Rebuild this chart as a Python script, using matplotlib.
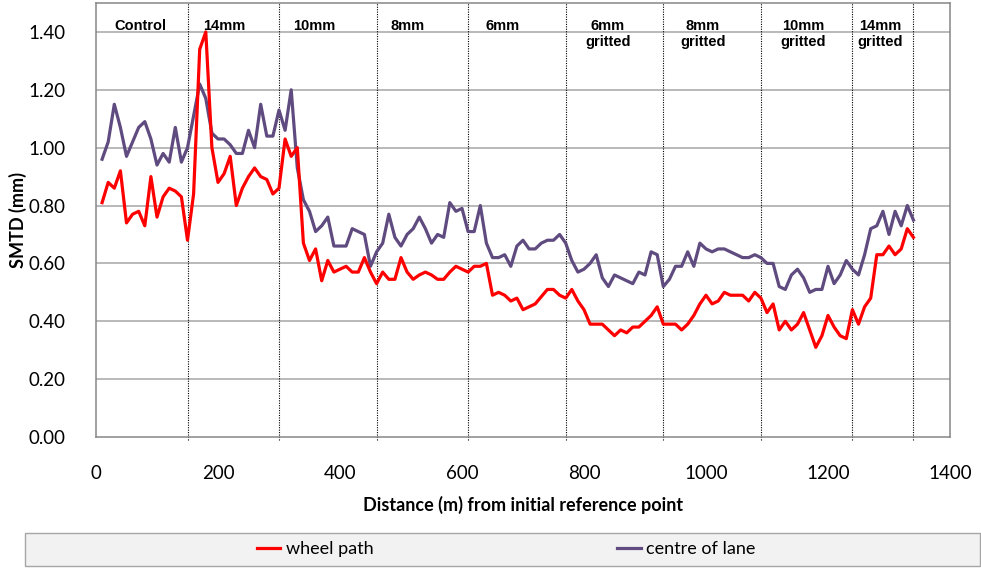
import matplotlib
matplotlib.use("Agg")
import matplotlib.pyplot as plt
from matplotlib.patches import Rectangle

# sampling every 10 m along the section
distance = list(range(10, 1350, 10))

wheel_path = [
    0.81, 0.88, 0.86, 0.92, 0.74, 0.77, 0.78, 0.73, 0.90, 0.76,
    0.83, 0.86, 0.85, 0.83, 0.68, 0.84, 1.34, 1.40, 1.00, 0.88,
    0.91, 0.97, 0.80, 0.86, 0.90, 0.93, 0.90, 0.89, 0.84, 0.86,
    1.03, 0.97, 1.00, 0.67, 0.61, 0.65, 0.54, 0.61, 0.57, 0.58,
    0.59, 0.57, 0.57, 0.62, 0.57, 0.53, 0.57, 0.545, 0.545, 0.62,
    0.57, 0.545, 0.56, 0.57, 0.56, 0.545, 0.545, 0.57, 0.59, 0.58,
    0.57, 0.59, 0.59, 0.60, 0.49, 0.50, 0.49, 0.47, 0.48, 0.44,
    0.45, 0.46, 0.485, 0.51, 0.51, 0.49, 0.48, 0.51, 0.47, 0.44,
    0.39, 0.39, 0.39, 0.37, 0.35, 0.37, 0.36, 0.38, 0.38, 0.40,
    0.42, 0.45, 0.39, 0.39, 0.39, 0.37, 0.39, 0.42, 0.46, 0.49,
    0.46, 0.47, 0.50, 0.49, 0.49, 0.49, 0.47, 0.50, 0.48, 0.43,
    0.46, 0.37, 0.40, 0.37, 0.39, 0.43, 0.37, 0.31, 0.35, 0.42,
    0.38, 0.35, 0.34, 0.44, 0.39, 0.45, 0.48, 0.63, 0.63, 0.66,
    0.63, 0.65, 0.72, 0.69,
]

centre_of_lane = [
    0.96, 1.02, 1.15, 1.07, 0.97, 1.02, 1.07, 1.09, 1.03, 0.94,
    0.98, 0.95, 1.07, 0.95, 1.00, 1.11, 1.22, 1.17, 1.05, 1.03,
    1.03, 1.01, 0.98, 0.98, 1.06, 1.00, 1.15, 1.04, 1.04, 1.13,
    1.06, 1.20, 0.93, 0.82, 0.78, 0.71, 0.73, 0.76, 0.66, 0.66,
    0.66, 0.72, 0.71, 0.70, 0.59, 0.64, 0.67, 0.77, 0.69, 0.66,
    0.70, 0.72, 0.76, 0.72, 0.67, 0.70, 0.69, 0.81, 0.78, 0.79,
    0.71, 0.71, 0.80, 0.67, 0.62, 0.62, 0.63, 0.59, 0.66, 0.68,
    0.65, 0.65, 0.67, 0.68, 0.68, 0.70, 0.67, 0.61, 0.57, 0.58,
    0.60, 0.63, 0.55, 0.52, 0.56, 0.55, 0.54, 0.53, 0.57, 0.56,
    0.64, 0.63, 0.52, 0.545, 0.59, 0.59, 0.64, 0.59, 0.67, 0.65,
    0.64, 0.65, 0.65, 0.64, 0.63, 0.62, 0.62, 0.63, 0.62, 0.60,
    0.60, 0.52, 0.51, 0.56, 0.58, 0.55, 0.50, 0.51, 0.51, 0.59,
    0.53, 0.56, 0.61, 0.58, 0.56, 0.63, 0.72, 0.73, 0.78, 0.70,
    0.78, 0.73, 0.80, 0.75,
]

# section boundaries (m) and the labels written above each section
boundaries = [150, 300, 460, 610, 770, 930, 1090, 1240, 1340]
section_labels = ["Control", "14mm", "10mm", "8mm", "6mm",
                  "6mm\ngritted", "8mm\ngritted", "10mm\ngritted", "14mm\ngritted"]
label_pos = [72, 211, 357, 511, 667, 839, 995, 1160, 1286]

yticks = [0.0, 0.2, 0.4, 0.6, 0.8, 1.0, 1.2, 1.4]
xticks = [0, 200, 400, 600, 800, 1000, 1200, 1400]

fig = plt.figure(figsize=(9.81, 5.68), dpi=100)
ax = fig.add_axes([96 / 981, 1 - 437 / 568, 854 / 981, 434 / 568])

ax.set_xlim(0, 1400)
ax.set_ylim(0, 1.5)
ax.set_yticks(yticks)
ax.set_yticklabels([f"{v:.2f}" for v in yticks])
ax.set_xticks(xticks)
ax.tick_params(length=0, labelsize=13.5)
ax.tick_params(axis="y", pad=22)
ax.tick_params(axis="x", pad=20)
for lab in ax.get_xticklabels() + ax.get_yticklabels():
    lab.set_fontfamily("Lato")

for v in yticks[1:]:
    ax.axhline(v, color="#a6a6a6", lw=1.1, zorder=1)
for s in ax.spines.values():
    s.set_color("#868686")
    s.set_linewidth(1.1)

ax.vlines(boundaries, -0.012, 1.5, colors="black", linestyles=(0, (1, 1.2)),
          lw=0.8, clip_on=False, zorder=2)

ax.plot(distance, wheel_path, color="#ff0000", lw=2.3, label="wheel path", zorder=4)
ax.plot(distance, centre_of_lane, color="#5f4b7f", lw=2.3, label="centre of lane", zorder=3)

for txt, xp in zip(section_labels, label_pos):
    ax.text(xp, 1.445, txt, ha="center", va="top", fontsize=10.5,
            fontweight="bold", fontfamily="Liberation Sans", linespacing=1.2)

ax.set_xlabel("Distance (m) from initial reference point", fontsize=13,
              fontweight="bold", fontfamily="Lato", labelpad=10)
ax.set_ylabel("SMTD (mm)", fontsize=13, fontweight="bold", fontfamily="Lato")
ax.yaxis.set_label_coords(-0.081, 0.5)

# legend box along the bottom
fig.patches.append(Rectangle((25 / 981, 2 / 568), 955 / 981, 33 / 568,
                             transform=fig.transFigure, facecolor="#f2f2f2",
                             edgecolor="#a6a6a6", lw=1))
fig.legend(loc="center", bbox_to_anchor=(0.516, 1 - 549 / 568), ncol=2,
           frameon=False, prop={"family": "Lato", "size": 13},
           handlelength=1.3, handletextpad=0.3, columnspacing=13.5)

fig.savefig("out.png", dpi=100)
